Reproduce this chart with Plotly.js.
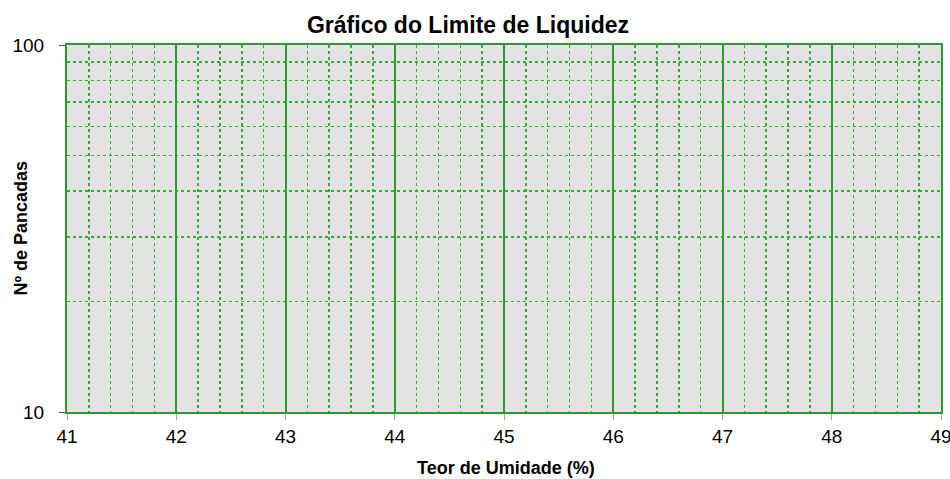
<!DOCTYPE html>
<html>
<head>
<meta charset="utf-8">
<script src="https://cdn.plot.ly/plotly-3.0.1.min.js"></script>
<style>html,body{margin:0;padding:0;background:#fff;}#chart{width:950px;height:479px;}</style>
</head>
<body>
<div id="chart"></div>
<script>
// Data (the reference chart is an empty grid: no plotted points)
const pointsX = [];
const pointsY = [];
const xRange = [41, 49];
const xTickVals = [41, 42, 43, 44, 45, 46, 47, 48, 49];
const xMinorStep = 0.2;
const yRange = [10, 100];
const yTickVals = [10, 100];
const yMinorVals = [20, 30, 40, 50, 60, 70, 80, 90];
const chartTitle = 'Gráfico do Limite de Liquidez';
const xTitle = 'Teor de Umidade (%)';
const yTitle = 'Nº de Pancadas';

const green = '#2e9a2e';
const trace = {x: pointsX, y: pointsY, type: 'scatter', mode: 'markers', showlegend: false};

const layout = {
  width: 950, height: 479,
  margin: {l: 67, r: 9, t: 45, b: 67},
  paper_bgcolor: '#ffffff',
  plot_bgcolor: '#e3e3e3',
  font: {family: 'Arial, "Liberation Sans", sans-serif', color: '#000'},
  title: {text: '<b>' + chartTitle + '</b>', x: 0.4926, xanchor: 'center', xref: 'container', y: 0.948, yanchor: 'middle', yref: 'container', font: {size: 23, color: '#000'}},
  xaxis: {
    type: 'linear', range: xRange, tickmode: 'array', tickvals: xTickVals,
    ticks: 'outside', ticklen: 6, tickcolor: '#80c080', tickwidth: 1,
    showgrid: true, gridcolor: green, gridwidth: 2,
    showline: true, linecolor: green, linewidth: 2, mirror: true,
    zeroline: false, tickfont: {size: 19, color: '#000'},
    ticklabeloverflow: 'allow',
    minor: {dtick: xMinorStep, tick0: 41, showgrid: true, gridcolor: '#3aa83a', gridwidth: 1.5, griddash: 'dot', ticks: ''}
  },
  yaxis: {
    type: 'log', range: [Math.log10(yRange[0]), Math.log10(yRange[1])],
    tickmode: 'array', tickvals: yTickVals, ticktext: yTickVals.map(String),
    ticks: 'outside', ticklen: 6, tickcolor: '#3a6a3a', tickwidth: 1,
    ticklabelstandoff: 11,
    showgrid: true, gridcolor: green, gridwidth: 2,
    showline: true, linecolor: green, linewidth: 2, mirror: true,
    zeroline: false, tickfont: {size: 19, color: '#000'},
    minor: {tickmode: 'array', tickvals: yMinorVals, showgrid: true, gridcolor: '#3aa83a', gridwidth: 1.5, griddash: 'dot', ticks: ''}
  },
  annotations: [
    {text: '<b>' + xTitle + '</b>', xref: 'paper', yref: 'paper', x: 0.5, y: 0, xshift: 2, yshift: -56,
     xanchor: 'center', yanchor: 'middle', showarrow: false, font: {size: 18, color: '#000'}},
    {text: '<b>' + yTitle + '</b>', xref: 'paper', yref: 'paper', x: 0, y: 0.5, xshift: -47, yshift: 0,
     xanchor: 'center', yanchor: 'middle', textangle: -90, showarrow: false, font: {size: 18, color: '#000'}}
  ]
};

Plotly.newPlot('chart', [trace], layout, {displayModeBar: false, staticPlot: true});
</script>
</body>
</html>
